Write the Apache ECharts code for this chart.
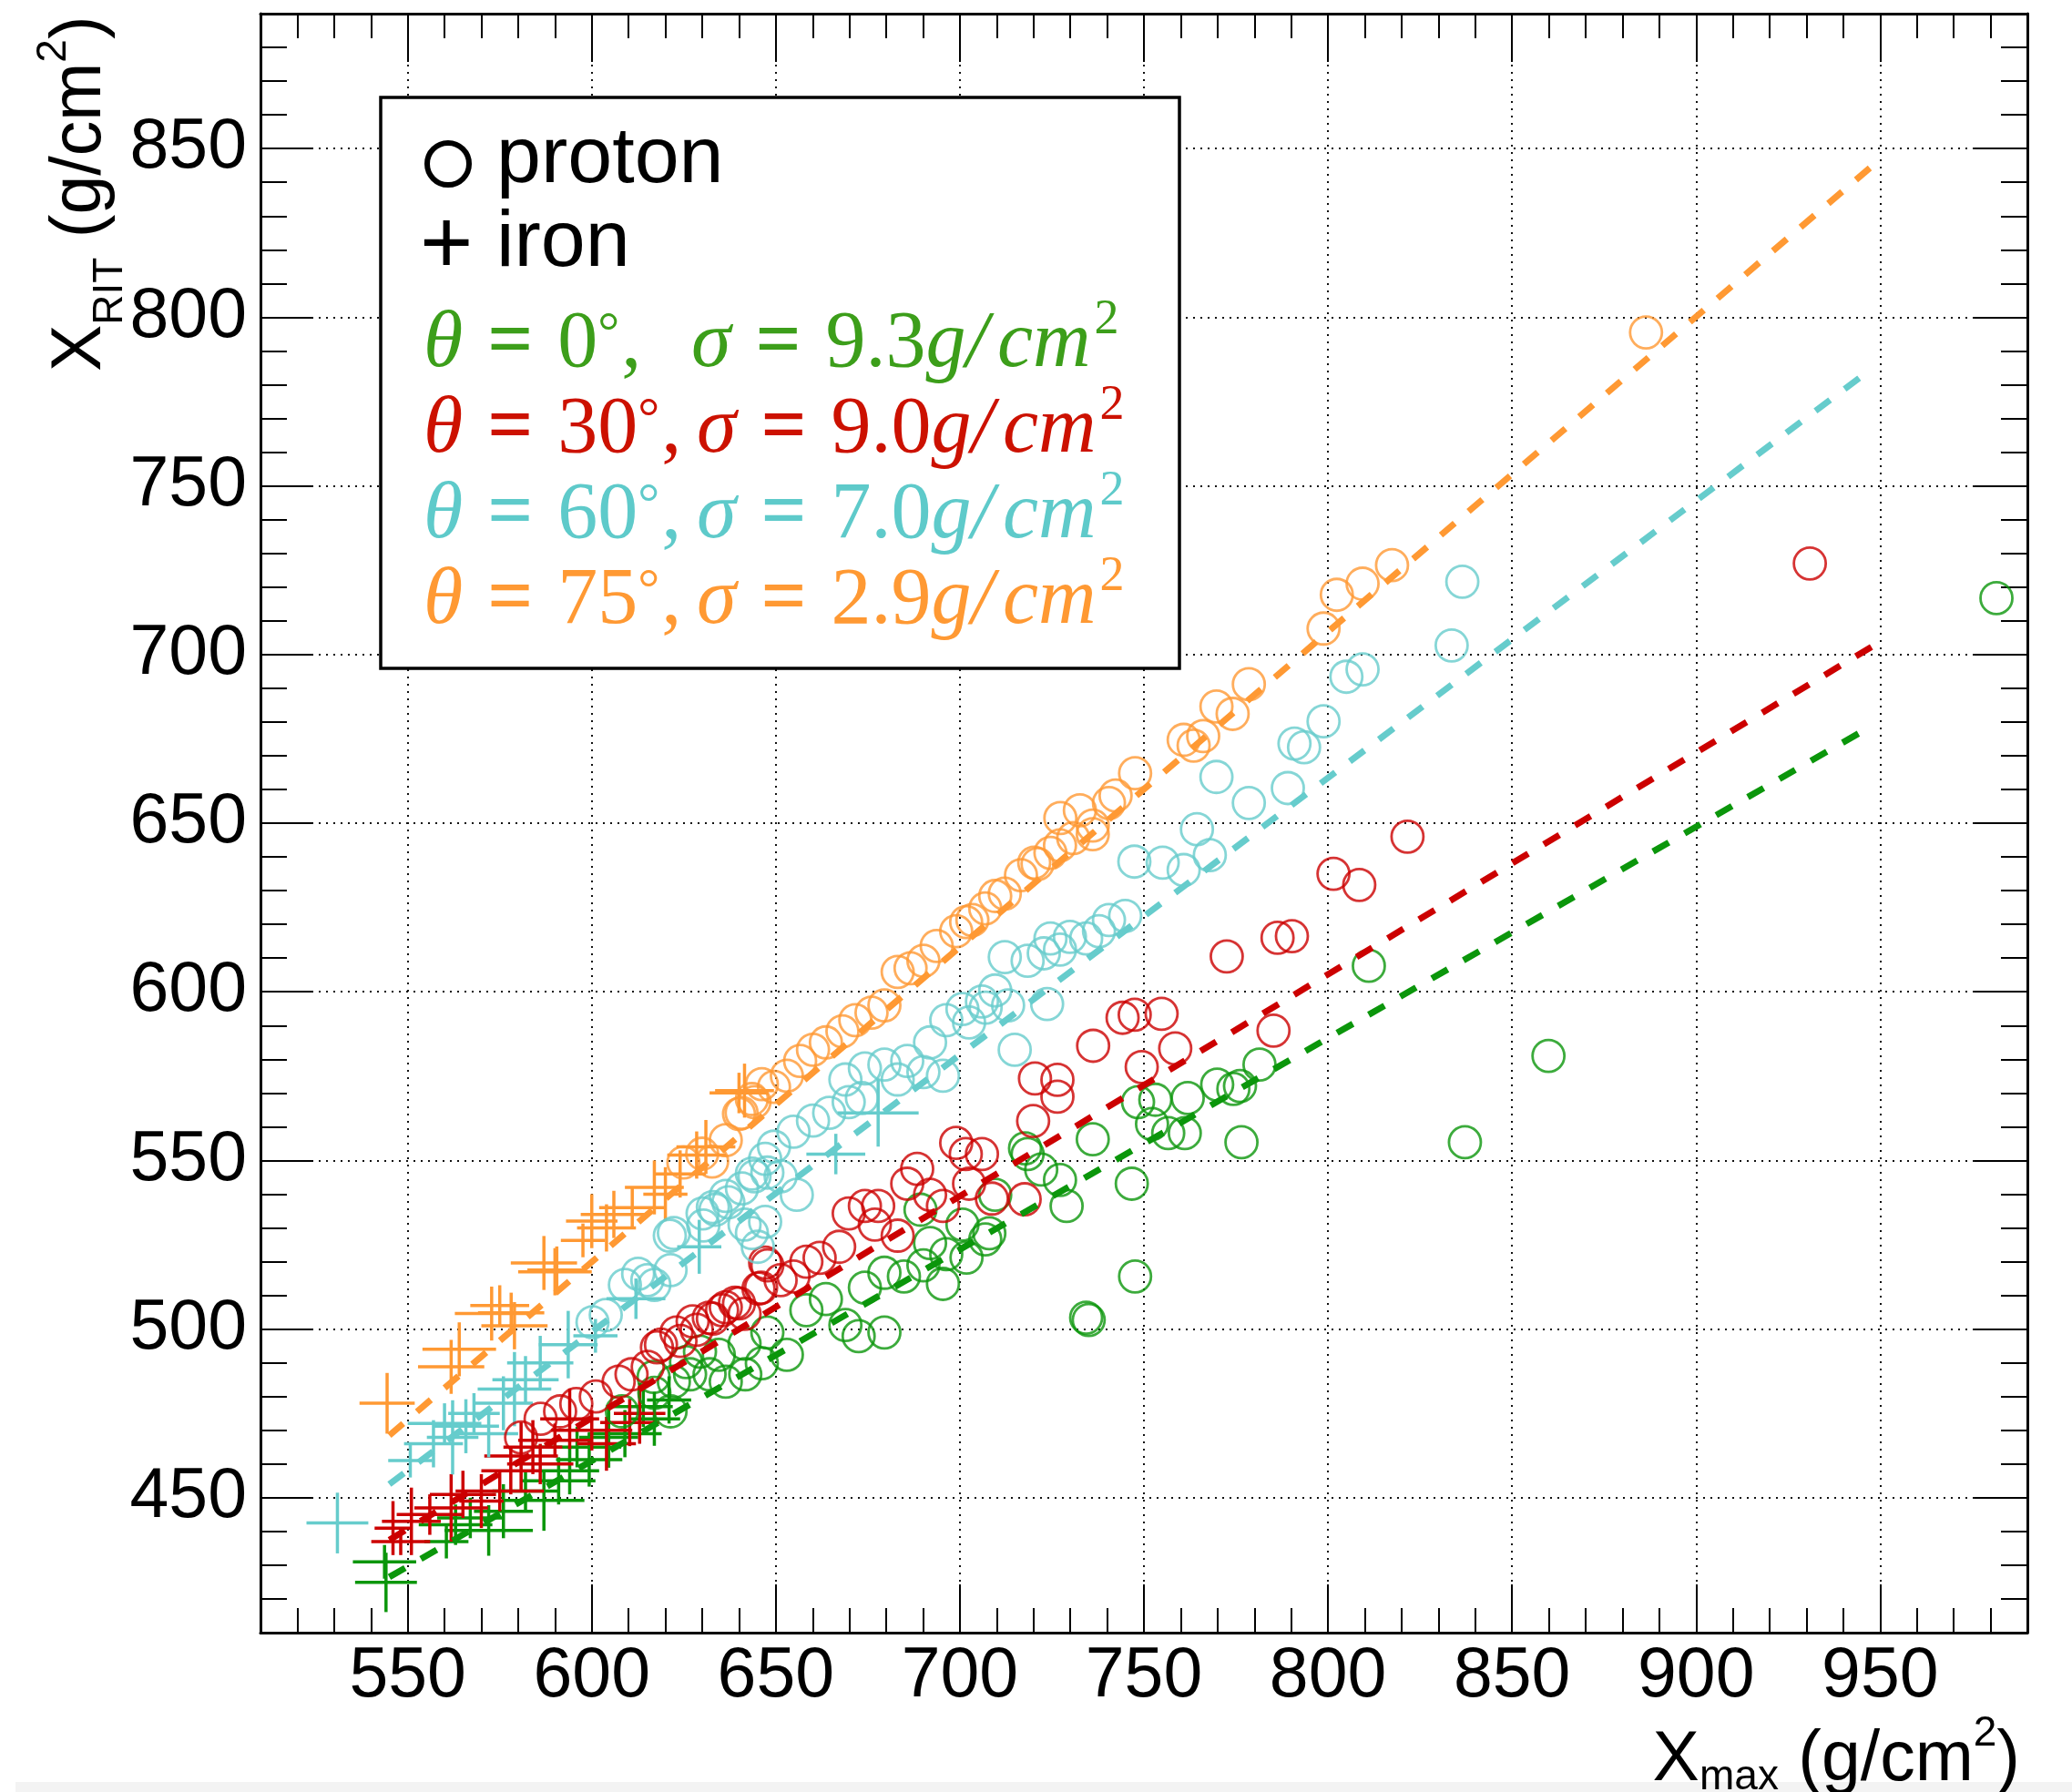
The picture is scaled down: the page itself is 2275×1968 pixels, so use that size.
<!DOCTYPE html>
<html>
<head>
<meta charset="utf-8">
<script src="https://cdn.jsdelivr.net/npm/echarts@6.0.0/dist/echarts.min.js"></script>
<style>
  html, body { margin: 0; padding: 0; background: #ffffff; }
  #chart { width: 2275px; height: 1968px; }
</style>
</head>
<body>
<div id="chart"></div>
<script>
// Axis ranges (g/cm^2)
const xRange = [510, 990];
const yRange = [410, 890];

// Linear fits per zenith angle, as [Xmax, X_RIT] end points
const fitGreen  = [[545, 426.5], [948, 679.0]];
const fitRed    = [[545, 437.5], [948, 702.5]];
const fitCyan   = [[545, 454.0], [948, 785.0]];
const fitOrange = [[545, 468.5], [948, 845.0]];

// Proton showers: [Xmax, X_RIT]
const protonGreen = [
  [608.2,475.6],[617.0,481.1],[622.3,484.4],[626.7,486.6],[632.0,486.6],[636.4,484.4],[641.7,486.6],[646.2,489.9],[621.4,475.6],[629.4,493.3],
  [616.8,485.8],[625.6,490.2],[634.5,492.4],[641.5,495.7],[647.7,499.0],[653.0,492.4],[658.3,505.6],[663.6,508.9],[668.9,501.2],[672.5,497.9],
  [679.5,499.0],[674.2,512.3],[679.5,516.7],[684.8,515.6],[690.1,518.9],[695.4,513.4],[691.9,525.5],[696.3,522.2],[689.3,535.4],[700.7,531.0],
  [706.9,526.6],[709.6,539.8],[718.4,551.9],[727.2,544.2],[729.0,536.5],[736.1,556.3],[746.7,543.1],[747.6,515.6],[734.3,503.4],[748.4,567.3],
  [701.8,521.2],[708.0,528.4],[717.7,553.6],[722.1,547.3],[752.2,560.8],[756.6,558.1],[761.1,558.1],[753.1,568.0],[761.9,568.5],
  [769.9,572.5],[774.3,571.2],[776.1,572.1],[781.4,578.4],[776.5,555.4],[811.1,607.7],[837.2,555.4],[859.9,581.0],[981.6,716.7],[735.0,502.7]
];
const protonRed = [
  [580.8,467.9],[586.1,473.4],[591.4,475.6],[595.8,477.8],[601.1,480.0],[607.3,484.4],[610.8,486.6],[615.2,488.8],[618.8,495.4],[624.1,496.5],
  [628.5,499.8],[632.9,503.1],[636.4,506.5],[640.0,507.6],[645.3,512.0],[647.1,519.7],[617.7,494.6],[623.0,499.0],[627.4,502.3],[631.8,503.4],
  [635.4,505.6],[638.9,507.8],[641.5,504.5],[646.0,512.3],[647.7,518.9],[651.3,514.5],[654.8,515.6],[658.3,520.0],[661.9,521.1],[667.2,524.4],
  [669.8,534.3],[674.2,536.5],[677.8,536.5],[676.9,531.0],[683.1,527.7],[688.4,547.5],[685.7,543.1],[691.9,539.8],[695.4,536.5],[699.0,555.2],
  [701.6,551.9],[702.5,543.1],[706.0,551.9],[708.7,538.7],[717.6,538.5],[720.4,574.3],[726.5,573.9],[726.5,568.9],[719.9,561.7],[736.2,584.0],
  [744.2,592.3],[747.5,593.2],[754.8,593.5],[749.4,577.7],[758.5,583.2],[772.5,610.5],[786.3,616.0],[790.2,616.5],[785.2,588.5],[801.5,635.0],
  [808.5,631.7],[821.6,646.0],[930.9,727.0]
];
const protonCyan = [
  [603.8,504.2],[600.2,502.0],[609.0,513.1],[612.6,516.4],[617.0,513.1],[621.4,517.5],[622.3,528.5],[630.3,530.7],[632.9,536.2],[636.4,539.5],
  [640.8,541.7],[643.5,546.1],[647.1,550.5],[643.5,528.5],[647.1,531.8],[615.1,514.5],[621.2,527.7],[630.1,534.3],[633.6,535.4],[637.1,537.6],
  [641.5,531.0],[645.1,524.4],[644.2,545.3],[647.7,546.4],[651.3,545.3],[655.7,539.8],[649.5,554.1],[654.8,558.5],[660.1,561.8],[664.5,564.1],
  [669.8,567.3],[673.4,568.5],[668.9,574.0],[674.2,577.3],[679.5,578.4],[683.1,574.0],[685.7,579.5],[690.1,576.2],[695.4,575.1],[691.9,585.0],
  [696.3,591.6],[700.7,594.9],[706.0,597.1],[713.1,596.0],[714.9,582.8],[709.6,600.4],[712.2,610.3],[718.4,609.2],[722.8,611.4],[724.6,615.8],
  [727.2,612.5],[734.3,615.8],[737.8,618.0],[740.5,621.3],[744.9,622.5],[747.4,638.6],[702.5,590.9],[707.0,595.3],[723.7,596.4],[729.9,616.3],
  [755.1,638.3],[760.8,636.1],[764.4,648.2],[767.9,640.5],[769.7,663.7],[778.5,656.0],[789.1,660.4],[790.9,673.6],[793.5,672.5],[798.8,680.2],
  [805.0,693.4],[809.4,695.6],[833.6,702.7],[836.5,721.6]
];
const protonOrange = [
  [624.9,549.4],[630.0,552.0],[636.4,556.0],[640.0,563.8],[643.5,568.2],[646.2,572.6],[632.7,549.7],[640.7,564.1],[644.2,567.3],[649.5,571.8],
  [653.0,575.1],[656.6,579.5],[660.1,582.8],[663.6,585.0],[668.1,588.3],[671.6,591.6],[676.0,593.8],[679.5,596.0],[683.1,605.9],[686.6,607.0],
  [690.1,609.2],[693.7,613.6],[699.0,618.0],[703.4,621.3],[706.9,624.7],[712.2,629.1],[716.6,634.6],[721.1,637.9],[724.6,641.2],[727.2,643.4],
  [730.8,645.6],[736.1,646.7],[701.7,620.7],[709.6,628.4],[720.2,638.3],[727.3,651.5],[732.6,653.8],[736.1,649.3],[740.5,656.0],[742.3,658.2],
  [747.6,664.8],[760.8,674.7],[766.1,675.8],[763.5,673.0],[769.7,684.6],[774.1,682.4],[778.5,691.2],[798.8,707.7],[802.4,717.7],[809.4,721.0],
  [817.4,726.5],[886.4,795.5]
];

// Iron showers: [Xmax, X_RIT, errXmax, errX_RIT]
const ironGreen = [
  [544.1,424.9,8.4,8.8],[543.7,431.0,8.6,5.0],[560.5,437.0,6.0,5.0],[563.0,442.0,10.0,6.0],[567.0,444.0,9.0,6.0],
  [572.0,440.3,12.0,7.5],[576.0,446.0,8.0,8.0],[587.0,449.2,11.0,9.0],[582.0,452.0,9.0,6.0],[591.0,455.0,10.0,7.0],
  [594.0,458.0,8.0,7.0],[599.3,461.3,9.0,8.0],[596.0,465.0,12.0,6.0],[604.6,467.9,8.0,9.0],[609.0,469.0,10.0,7.0],
  [617.0,473.4,7.0,8.0],[614.0,477.0,8.0,6.0],[621.0,479.0,6.0,7.0]
];
const ironRed = [
  [548.1,437.0,8.0,4.0],[546.0,441.0,5.0,8.0],[551.0,443.0,8.0,10.0],[556.0,445.0,9.0,6.0],[561.8,447.0,10.0,10.0],
  [565.0,451.0,9.0,7.0],[570.0,449.0,6.0,8.0],[575.0,452.0,12.0,6.0],[580.8,462.4,10.0,10.0],[578.0,458.0,8.0,7.0],
  [584.0,465.0,8.0,8.0],[586.0,460.0,9.0,6.0],[594.0,473.4,8.0,9.0],[590.0,467.0,10.0,5.0],[600.0,470.0,11.0,6.0],
  [604.0,466.0,8.0,8.0],[610.3,472.3,8.0,7.0],[613.0,475.0,7.0,9.0]
];
const ironCyan = [
  [530.9,442.5,8.4,9.0],[550.7,461.0,6.0,5.0],[557.0,466.0,8.0,7.0],[560.0,472.0,10.0,6.0],[562.2,467.9,7.0,11.0],
  [565.8,471.2,9.0,8.0],[568.0,475.0,7.0,6.0],[572.0,469.0,8.0,7.0],[579.0,482.2,10.0,11.0],[582.0,485.0,9.0,7.0],
  [576.0,478.0,8.0,8.0],[586.0,490.0,9.0,8.0],[593.6,495.4,8.0,10.0],[601.0,498.0,6.0,5.0],[612.0,509.0,8.0,6.0],
  [629.2,524.4,6.0,8.0],[666.3,551.9,8.0,6.0],[677.8,564.1,11.0,10.0]
];
const ironOrange = [
  [544.4,478.0,7.5,9.0],[561.8,488.8,9.0,8.0],[564.0,494.0,10.0,8.0],[572.8,504.6,10.0,8.0],[575.0,507.0,8.0,6.0],
  [578.1,504.8,9.0,6.0],[579.0,501.0,9.0,7.0],[587.0,519.6,9.0,8.0],[590.0,517.0,10.0,7.0],[590.5,517.5,8.0,7.0],
  [597.6,526.3,6.0,5.0],[604.0,530.0,8.0,7.0],[600.0,532.0,7.0,8.0],[606.0,534.0,9.0,7.0],[611.0,536.0,9.0,6.0],
  [617.0,542.0,8.0,8.0],[620.0,540.0,6.0,8.0],[624.0,546.0,7.0,7.0],[628.5,551.6,8.0,7.0],[631.0,554.0,8.0,8.0],
  [640.0,570.0,8.0,6.0],[641.5,570.7,8.0,8.0]
];

// Legend rows: zenith angle and resolution
const legendTheta = ['0', '30', '60', '75'];
const legendSigma = ['9.3', '9.0', '7.0', '2.9'];

const markColors   = ['#0b960b', '#cc0000', '#66cccc', '#ff9933'];
const legendColors = ['#3c9e1a', '#cc1100', '#5ecaca', '#ff9933'];

const SANS = 'Liberation Sans';
const SERIF = 'Liberation Serif';

// ---- text helpers: runs of differently styled pieces on a shared baseline ----
const measureCtx = document.createElement('canvas').getContext('2d');
function fontString(p) {
  return (p.style || 'normal') + ' ' + (p.weight || 'normal') + ' ' + p.size + 'px "' + p.family + '"';
}
function middleOffset(font, size) {
  measureCtx.font = font;
  measureCtx.textBaseline = 'alphabetic';
  const a = measureCtx.measureText('Hg').fontBoundingBoxAscent;
  measureCtx.textBaseline = 'middle';
  const m = measureCtx.measureText('Hg').fontBoundingBoxAscent;
  measureCtx.textBaseline = 'alphabetic';
  if (typeof a !== 'number' || typeof m !== 'number') return 0.35 * size;
  return a - m;
}
function textRun(pieces, x0, base, color, z) {
  let x = x0;
  const els = [];
  pieces.forEach(p => {
    if (p.at != null) x = p.at;
    if (p.gap) x += p.gap;
    const font = fontString(p);
    measureCtx.font = font;
    const w = measureCtx.measureText(p.t).width;
    const off = middleOffset(font, p.size);
    els.push({
      type: 'text', x: x, y: base + (p.dy || 0) - off, z: z || 20,
      style: { text: p.t, font: font, fill: p.color || color,
               align: 'left', verticalAlign: 'middle', textAlign: 'left', textVerticalAlign: 'middle' }
    });
    x += w;
  });
  return { els: els, width: x - x0 };
}

function axisTitlePieces(sub, subDy) {
  return [
    { t: 'X', family: SANS, size: 77 },
    { t: sub, family: SANS, size: 46, dy: subDy },
    { t: ' (g/cm', family: SANS, size: 77 },
    { t: '2', family: SANS, size: 46, dy: -38 },
    { t: ')', family: SANS, size: 77 }
  ];
}

function legendRow(theta, sigma, sigmaX, base, color) {
  const S = 88;
  const it = { family: SERIF, size: S, style: 'italic' };
  const up = { family: SERIF, size: S, style: 'normal' };
  const eq = { family: SERIF, size: S, style: 'normal', weight: 'bold' };
  const pieces = [
    Object.assign({ t: 'θ' }, it),
    Object.assign({ t: '=', gap: 27 }, eq),
    Object.assign({ t: theta, gap: 27 }, up),
    { t: '°', family: SERIF, size: 60, dy: -18 },
    Object.assign({ t: ',', gap: 2 }, up),
    Object.assign({ t: 'σ', at: sigmaX }, it),
    Object.assign({ t: '=', gap: 27 }, eq),
    Object.assign({ t: sigma, gap: 27 }, up),
    Object.assign({ t: 'g' }, it),
    Object.assign({ t: '/' }, it),
    Object.assign({ t: 'cm', gap: 10 }, it),
    { t: '2', gap: 4, family: SERIF, size: 54, dy: -36 }
  ];
  return textRun(pieces, 465, base, color, 21).els;
}

// ---- graphic elements: legend box, axis titles ----
const graphics = [];
graphics.push({ type: 'rect', z: 0, shape: { x: 17, y: 1957, width: 2258, height: 11 }, style: { fill: '#f3f3f3' } });

// X axis title, right aligned under the frame
const xt = textRun(axisTitlePieces('max', 10), 0, 0, '#000', 20);
graphics.push({ type: 'group', x: 2218 - xt.width, y: 1955, children: xt.els });

// Y axis title, rotated, reading upward
const yt = textRun(axisTitlePieces('RIT', 24), 0, 0, '#000', 20);
graphics.push({ type: 'group', x: 110, y: 408, rotation: Math.PI / 2, children: yt.els });

// Legend box
graphics.push({ type: 'rect', z: 15, shape: { x: 418, y: 107, width: 877, height: 627 },
  style: { fill: '#ffffff', stroke: '#000000', lineWidth: 3.5 } });
graphics.push({ type: 'circle', z: 20, shape: { cx: 492, cy: 180, r: 23 },
  style: { fill: 'none', stroke: '#000000', lineWidth: 6 } });
graphics.push({ type: 'text', z: 20, x: 461, y: 272,
  style: { text: '+', font: 'normal normal 100px "' + SANS + '"', fill: '#000',
           align: 'left', verticalAlign: 'middle', textAlign: 'left', textVerticalAlign: 'middle' } });
textRun([{ t: 'proton', family: SANS, size: 88 }], 545, 200, '#000', 20).els.forEach(e => graphics.push(e));
textRun([{ t: 'iron', family: SANS, size: 88 }], 545, 292, '#000', 20).els.forEach(e => graphics.push(e));
const rowBase = [402, 496, 590, 684];
const rowSigmaX = [759, 765, 765, 765];
for (let i = 0; i < 4; i++) {
  legendRow(legendTheta[i], legendSigma[i], rowSigmaX[i], rowBase[i], legendColors[i]).forEach(e => graphics.push(e));
}

// ---- series ----
function protonSeries(data, color) {
  return {
    type: 'scatter', data: data, symbol: 'circle', symbolSize: 35, silent: true, z: 3,
    itemStyle: { color: 'rgba(0,0,0,0)', borderColor: color, borderWidth: 2.8 }
  };
}
function ironSeries(data, color) {
  return {
    type: 'custom', data: data, silent: true, z: 3,
    encode: { x: 0, y: 1 },
    renderItem: function (params, api) {
      const x = api.value(0), y = api.value(1), ex = api.value(2), ey = api.value(3);
      const l = api.coord([x - ex, y]), r = api.coord([x + ex, y]);
      const t = api.coord([x, y + ey]), b = api.coord([x, y - ey]);
      return {
        type: 'group',
        children: [
          { type: 'line', shape: { x1: l[0], y1: l[1], x2: r[0], y2: r[1] }, style: { stroke: color, lineWidth: 3.5 } },
          { type: 'line', shape: { x1: t[0], y1: t[1], x2: b[0], y2: b[1] }, style: { stroke: color, lineWidth: 3.5 } }
        ]
      };
    }
  };
}
function fitSeries(data, color) {
  return {
    type: 'line', data: data, symbol: 'none', showSymbol: false, silent: true, z: 5,
    lineStyle: { color: color, width: 7, type: [20, 20] }
  };
}

const frameLine = { show: true, onZero: false, lineStyle: { color: '#000', width: 3 } };
const tickFmt = v => (v % 50 === 0 ? String(v) : '');
const labelStyle = { color: '#000', fontFamily: SANS, fontSize: 77 };
const gridStyle = { show: true, lineStyle: { color: '#111', width: 2, type: [2, 6] } };

const option = {
  animation: false,
  backgroundColor: '#ffffff',
  grid: { left: 286, top: 15, width: 1940, height: 1778, containLabel: false, outerBoundsMode: 'none' },
  xAxis: [
    {
      type: 'value', min: xRange[0], max: xRange[1], splitNumber: 10, position: 'bottom',
      axisLine: frameLine,
      axisTick: { show: true, inside: true, length: 53, lineStyle: { color: '#000', width: 2 } },
      minorTick: { show: true, splitNumber: 5, length: 27, lineStyle: { color: '#000', width: 2 } },
      axisLabel: Object.assign({ show: true, margin: 10, formatter: tickFmt }, labelStyle),
      splitLine: gridStyle,
      minorSplitLine: { show: false }
    },
    {
      type: 'value', min: xRange[0], max: xRange[1], splitNumber: 10, position: 'top',
      axisLine: frameLine,
      axisTick: { show: true, inside: true, length: 53, lineStyle: { color: '#000', width: 2 } },
      minorTick: { show: true, splitNumber: 5, length: 27, lineStyle: { color: '#000', width: 2 } },
      axisLabel: { show: false }, splitLine: { show: false }
    }
  ],
  yAxis: [
    {
      type: 'value', min: yRange[0], max: yRange[1], splitNumber: 10, position: 'left',
      axisLine: frameLine,
      axisTick: { show: true, inside: true, length: 58, lineStyle: { color: '#000', width: 2 } },
      minorTick: { show: true, splitNumber: 5, length: 29, lineStyle: { color: '#000', width: 2 } },
      axisLabel: Object.assign({ show: true, margin: 15, formatter: tickFmt }, labelStyle),
      splitLine: gridStyle,
      minorSplitLine: { show: false }
    },
    {
      type: 'value', min: yRange[0], max: yRange[1], splitNumber: 10, position: 'right',
      axisLine: frameLine,
      axisTick: { show: true, inside: true, length: 58, lineStyle: { color: '#000', width: 2 } },
      minorTick: { show: true, splitNumber: 5, length: 29, lineStyle: { color: '#000', width: 2 } },
      axisLabel: { show: false }, splitLine: { show: false }
    }
  ],
  series: [
    protonSeries(protonGreen, markColors[0]),
    ironSeries(ironGreen, markColors[0]),
    protonSeries(protonRed, markColors[1]),
    ironSeries(ironRed, markColors[1]),
    protonSeries(protonCyan, markColors[2]),
    ironSeries(ironCyan, markColors[2]),
    protonSeries(protonOrange, markColors[3]),
    ironSeries(ironOrange, markColors[3]),
    fitSeries(fitGreen, markColors[0]),
    fitSeries(fitRed, markColors[1]),
    fitSeries(fitCyan, markColors[2]),
    fitSeries(fitOrange, markColors[3])
  ],
  graphic: { elements: graphics }
};

const chart = echarts.init(document.getElementById('chart'), null, { renderer: 'canvas' });
chart.setOption(option);
</script>
</body>
</html>
